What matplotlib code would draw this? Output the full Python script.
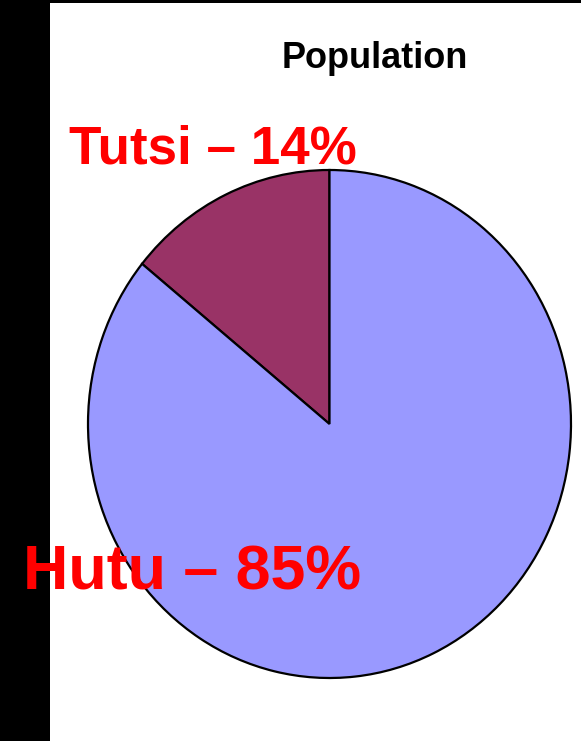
import matplotlib
matplotlib.use("Agg")
import matplotlib.pyplot as plt
from matplotlib.patches import Rectangle

# Data
categories = ["Tutsi", "Hutu"]
values = [14, 85]
labels = ["Tutsi – 14%", "Hutu – 85%"]
colors = ["#993366", "#9999FF"]
title = "Population"

W, H = 581, 741
fig = plt.figure(figsize=(W / 100, H / 100), dpi=100)
fig.patch.set_facecolor("white")

# black frame strips (left and top)
fig.patches.append(Rectangle((0, 0), 50 / W, 1, transform=fig.transFigure,
                             facecolor="black", edgecolor="none", zorder=0))
fig.patches.append(Rectangle((0, 1 - 3 / H), 1, 3 / H, transform=fig.transFigure,
                             facecolor="black", edgecolor="none", zorder=0))

# pie axes: pixel box left 88, right 571, top 170, bottom 678
ax = fig.add_axes([88 / W, (H - 678) / H, 483 / W, 508 / H])
ax.pie(values, colors=colors, startangle=90, counterclock=True,
       wedgeprops=dict(edgecolor="black", linewidth=1.6), radius=1.0)
ax.set_aspect("auto")
ax.set_xlim(-1.0, 1.0)
ax.set_ylim(-1.0, 1.0)
ax.axis("off")

font = "Liberation Sans"
fig.text(375 / W, (H - 68) / H, title, ha="center", va="baseline",
         fontsize=26, fontweight="bold", family=font, color="black")
fig.text(69 / W, (H - 163) / H, labels[0], ha="left", va="baseline",
         fontsize=38.2, fontweight="bold", family=font, color="#FF0000")
fig.text(23 / W, (H - 590) / H, labels[1], ha="left", va="baseline",
         fontsize=45.2, fontweight="bold", family=font, color="#FF0000")

fig.savefig("out.png", dpi=100)
